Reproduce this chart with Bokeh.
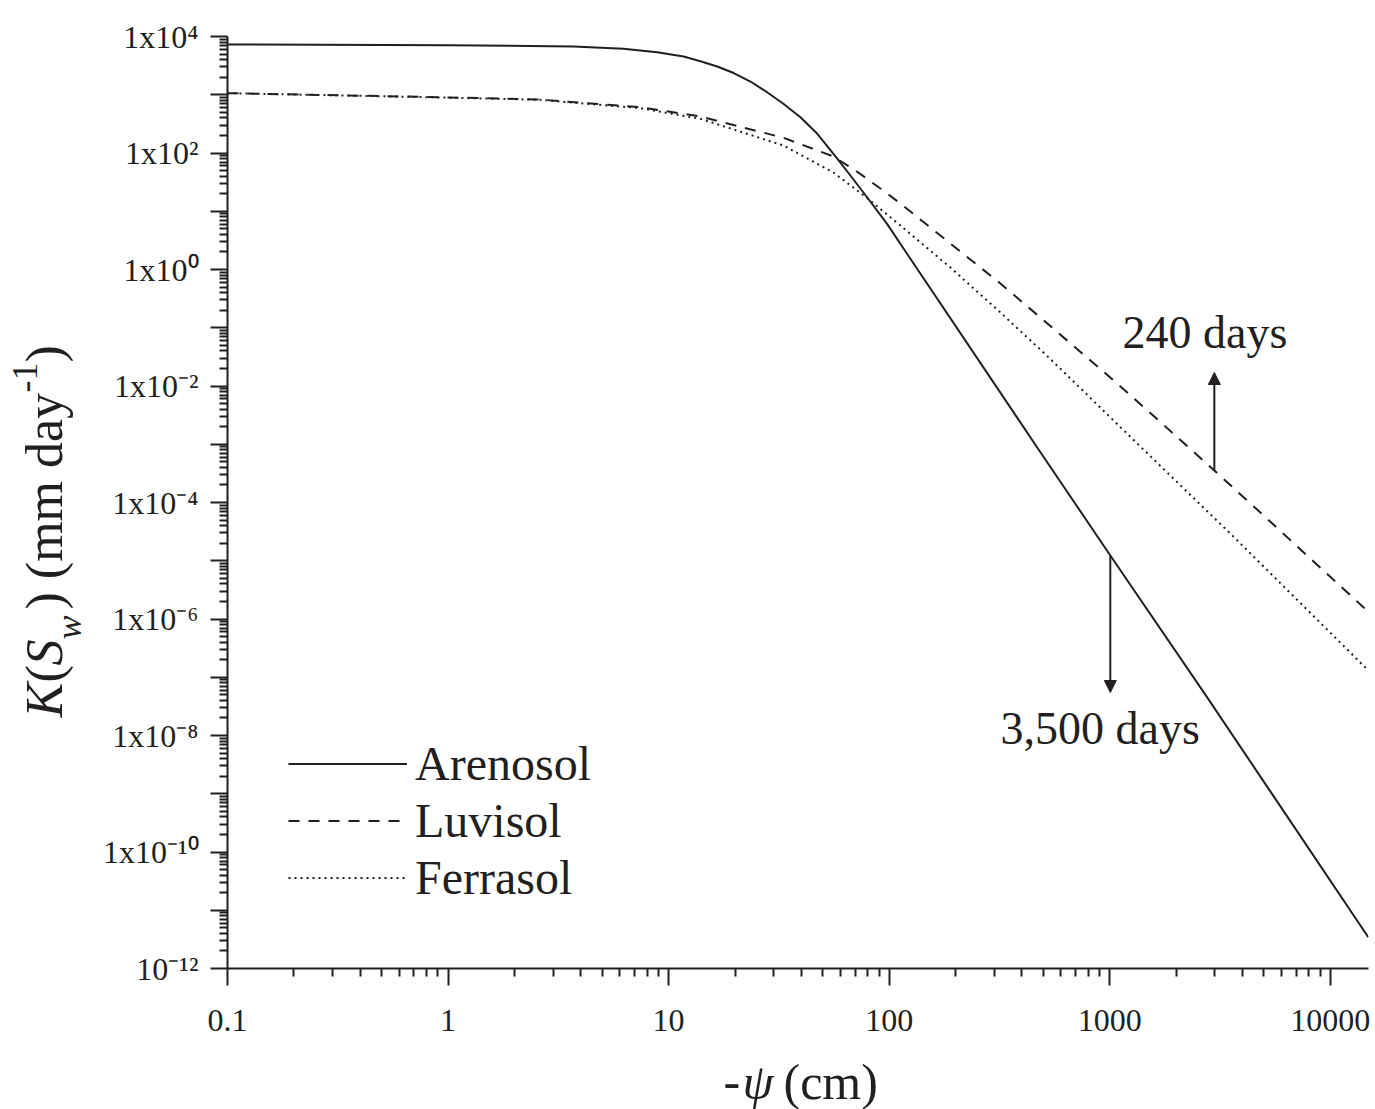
import math
from bokeh.plotting import figure
from bokeh.layouts import row, column
from bokeh.models import (Range1d, FixedTicker, CustomJSTickFormatter, Legend,
                          LegendItem, Label, Arrow, NormalHead)
from bokeh.core.properties import value
from bokeh.embed import file_html
from bokeh.resources import INLINE

# ---------------- data ----------------
arenosol_psi = [0.1, 1.0, 3.70, 6.24, 8.87, 11.7, 13.94, 16.6, 19.73, 23.49, 27.96, 33.25, 39.59, 47.12,
                58.05, 66.71, 79.39, 97.83, 120.5, 468.1, 1006, 2761, 14870]
arenosol_k = [7300, 7100, 6730, 6150, 5370, 4540, 3770, 3055, 2360, 1687, 1106, 693, 412, 216,
              80.5, 41.1, 17.4, 6.08, 1.86, 8.9e-4, 1.23e-5, 4.55e-8, 3.44e-12]

luvisol_psi = [0.1, 0.91, 2.6, 7.4, 13.94, 33.14, 55.86, 70.3, 91.2, 112.4, 189.5, 319.3, 538,
               1006, 1696, 2980, 4817, 14870]
luvisol_k = [1065, 908, 828, 611, 424, 182.4, 87.1, 50.1, 24.6, 13.6, 2.79, 0.575, 0.107,
             0.0140, 2.41e-3, 3.54e-4, 6.73e-5, 1.33e-6]

ferrasol_psi = [0.1, 0.91, 2.6, 7.4, 13.94, 33.14, 55.86, 79.39, 112.4, 189.5, 319.3, 538, 935.4,
                1376, 3633, 14870]
ferrasol_k = [1065, 900, 820, 590, 386, 134.6, 46.2, 16.9, 5.69, 1.08, 0.183, 0.0291, 3.79e-3,
              9.14e-4, 2.61e-5, 1.31e-7]

series_names = ["Arenosol", "Luvisol", "Ferrasol"]

x_tick_values = [0.1, 1, 10, 100, 1000, 10000]
x_tick_labels = ["0.1", "1", "10", "100", "1000", "10000"]
y_tick_exps = list(range(-12, 5))
y_tick_labels = ["10\u207b\u00b9\u00b2", "", "1x10\u207b\u00b9\u2070", "", "1x10\u207b\u2078", "",
                 "1x10\u207b\u2076", "", "1x10\u207b\u2074", "", "1x10\u207b\u00b2", "",
                 "1x10\u2070", "", "1x10\u00b2", "", "1x10\u2074"]

arrow_up_psi = 2980          # "240 days" arrow position
arrow_down_psi = 1006        # "3,500 days" arrow position

# ---------------- geometry ----------------
INK = "#231f20"
FONT = "Liberation Serif"
W, H = 1375, 1109
LW = 90                      # width of the strip holding the y title
MH = 1050                    # height of the main figure
L, R, T, B = 227, 1368, 36, 968   # frame edges in page pixels
XMIN, XMAX, YMIN, YMAX = 0.1, 14900, 1e-12, 1e4


def xd(px):
    return 10 ** (math.log10(XMIN) + (px - L) / (R - L) * (math.log10(XMAX) - math.log10(XMIN)))


def yd(py):
    return 10 ** (math.log10(YMAX) - (py - T) / (B - T) * (math.log10(YMAX) - math.log10(YMIN)))


p = figure(width=W - LW, height=MH, x_axis_type="log", y_axis_type="log",
           x_range=Range1d(XMIN, XMAX), y_range=Range1d(YMIN, YMAX),
           output_backend="svg", toolbar_location=None,
           min_border_left=L - LW, min_border_right=W - R, min_border_top=T, min_border_bottom=MH - B)
p.outline_line_color = None
p.grid.visible = False
p.background_fill_color = "white"
p.border_fill_color = "white"

x_minor = [m * 10.0 ** k for k in range(-1, 5) for m in range(2, 10) if m * 10.0 ** k <= XMAX]
y_minor = [m * 10.0 ** k for k in range(-12, 4) for m in range(2, 10)]

p.xaxis.ticker = FixedTicker(ticks=x_tick_values, minor_ticks=x_minor)
p.yaxis.ticker = FixedTicker(ticks=[10.0 ** e for e in y_tick_exps], minor_ticks=y_minor)

fmt_code = """
const e = Math.log10(tick);
for (let i = 0; i < exps.length; i++) { if (Math.abs(exps[i] - e) < 1e-6) return labs[i]; }
return "";
"""
p.xaxis.formatter = CustomJSTickFormatter(args=dict(exps=[math.log10(v) for v in x_tick_values], labs=x_tick_labels), code=fmt_code)
p.yaxis.formatter = CustomJSTickFormatter(args=dict(exps=y_tick_exps, labs=y_tick_labels), code=fmt_code)

for ax in (p.xaxis[0], p.yaxis[0]):
    ax.axis_line_color = INK
    ax.axis_line_width = 2
    ax.major_tick_line_color = INK
    ax.major_tick_line_width = 2
    ax.minor_tick_line_color = INK
    ax.minor_tick_line_width = 2
    ax.major_tick_in = 0
    ax.major_tick_out = 17
    ax.minor_tick_in = 0
    ax.minor_tick_out = 8
    ax.major_label_text_font = FONT
    ax.major_label_text_font_size = "32px"
    ax.major_label_text_color = INK
p.xaxis.major_label_standoff = 24
p.yaxis.major_label_standoff = 12

r1 = p.line(arenosol_psi, arenosol_k, line_color=INK, line_width=2)
r2 = p.line(luvisol_psi, luvisol_k, line_color=INK, line_width=2, line_dash="11 9")
r3 = p.line(ferrasol_psi, ferrasol_k, line_color=INK, line_width=2, line_dash="2 4")

legend = Legend(items=[LegendItem(label=series_names[0], renderers=[r1]),
                       LegendItem(label=series_names[1], renderers=[r2]),
                       LegendItem(label=series_names[2], renderers=[r3])],
                location=(61, 62), glyph_width=119, glyph_height=57, label_height=57,
                label_standoff=8, spacing=0, padding=0, margin=0,
                border_line_color=None, background_fill_alpha=0,
                label_text_font=FONT, label_text_font_size="48px", label_text_color=INK)
p.add_layout(legend)

# arrows and in-plot annotations
p.add_layout(Arrow(end=NormalHead(size=12, fill_color=INK, line_color=INK, line_width=1),
                   x_start=arrow_up_psi, y_start=yd(470), x_end=arrow_up_psi, y_end=yd(372),
                   line_color=INK, line_width=2))
p.add_layout(Arrow(end=NormalHead(size=12, fill_color=INK, line_color=INK, line_width=1),
                   x_start=arrow_down_psi, y_start=yd(555), x_end=arrow_down_psi, y_end=yd(692),
                   line_color=INK, line_width=2))
p.add_layout(Label(x=xd(1122), y=yd(331.5), text="240 days", text_font=FONT, text_font_size="46px",
                   text_color=INK, text_align="left", text_baseline="middle"))
p.add_layout(Label(x=xd(1000), y=yd(727.5), text="3,500 days", text_font=FONT, text_font_size="46px",
                   text_color=INK, text_align="left", text_baseline="middle"))


def strip(width, height, xr, yr, bl=0, br=0):
    f = figure(width=width, height=height, x_range=Range1d(*xr), y_range=Range1d(*yr),
               output_backend="svg", toolbar_location=None, x_axis_location=None, y_axis_location=None,
               min_border_left=bl, min_border_right=br, min_border_top=0, min_border_bottom=0)
    f.outline_line_color = None
    f.grid.visible = False
    f.background_fill_color = "white"
    f.border_fill_color = "white"
    return f


# y title strip: page x 0..LW; y value = H - page_y
ys = strip(LW, H, (0, LW), (0, H))
F, S = 52, 36
ypieces = [("K", 717, 44, F, "italic"),
           ("(", 682, 44, F, "normal"),
           ("S", 665, 44, F, "italic"),
           ("w", 639, 68, S, "italic"),
           (") (mm day", 609, 44, F, "normal"),
           ("-1", 392, 24, S, "normal"),
           (")", 362, 44, F, "normal")]
for txt, py, px, fs, style in ypieces:
    ys.text(x=[px], y=[H - py], text=[txt], angle=math.pi / 2, text_font=value(FONT),
            text_font_size=value(f"{fs}px"), text_font_style=value(style), text_color=INK,
            text_align=value("left"), text_baseline=value("middle"))

# x title strip: frame aligned with main frame, x value = page x, y value = H - page_y
xs = strip(W - LW, H - MH, (L, R), (0, H - MH), bl=L - LW, br=W - R)
XT_MID = 1081
for txt, px, style in [("-", 723, "normal"), ("\u03c8", 742, "italic"), ("(cm)", 783, "normal")]:
    xs.text(x=[px], y=[H - XT_MID], text=[txt], text_font=value(FONT), text_font_size=value("50px"),
            text_font_style=value(style), text_color=INK, text_align=value("left"),
            text_baseline=value("middle"))

layout = row(ys, column(p, xs, spacing=0), spacing=0)
open("out.html", "w").write(file_html(layout, INLINE))
